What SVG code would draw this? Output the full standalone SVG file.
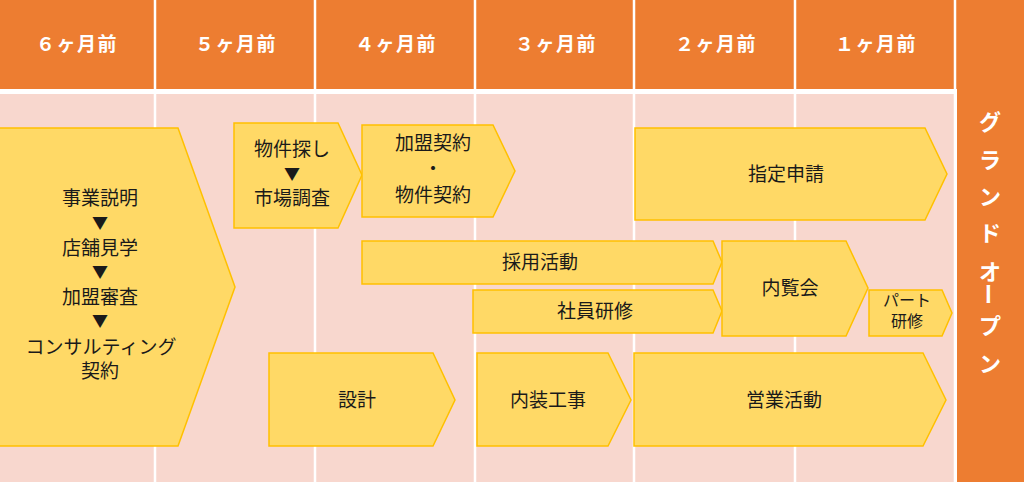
<svg xmlns="http://www.w3.org/2000/svg" width="1024" height="482" viewBox="0 0 1024 482">
<style>
.hdr{font-family:"Noto Sans CJK JP","Noto Sans",sans-serif;font-size:19px;font-weight:bold;fill:#fff;text-anchor:middle;dominant-baseline:central;letter-spacing:1.5px}
.vt{font-family:"Noto Sans CJK JP","Noto Sans",sans-serif;font-size:22px;font-weight:bold;fill:#fff;text-anchor:middle;dominant-baseline:central}
.box{fill:#FFD966;stroke:#FFC000;stroke-width:1.5}
.t{font-family:"Noto Sans CJK JP","Noto Sans",sans-serif;font-size:19px;fill:#1a1a1a;text-anchor:middle;dominant-baseline:central}
.s{font-size:16px}
.tri{font-size:16px}
.div{stroke:#fff;stroke-width:2.5}
</style>
<g id="background">
<rect x="0" y="0" width="1024" height="482" fill="#fff"/>
<rect x="0" y="0" width="1024" height="89" fill="#ED7D31"/>
<rect x="957" y="0" width="67" height="482" fill="#ED7D31"/>
<rect x="0" y="94" width="954" height="388" fill="#F8D7CE"/>
<line class="div" x1="155" y1="0" x2="155" y2="482"/>
<line class="div" x1="315" y1="0" x2="315" y2="482"/>
<line class="div" x1="475" y1="0" x2="475" y2="482"/>
<line class="div" x1="634" y1="0" x2="634" y2="482"/>
<line class="div" x1="795" y1="0" x2="795" y2="482"/>
<line class="div" x1="955" y1="0" x2="955" y2="482"/>
</g>
<g id="header">
<text class="hdr" x="77" y="42">６ヶ月前</text>
<text class="hdr" x="236" y="42">５ヶ月前</text>
<text class="hdr" x="396" y="42">４ヶ月前</text>
<text class="hdr" x="556" y="42">３ヶ月前</text>
<text class="hdr" x="716" y="42">２ヶ月前</text>
<text class="hdr" x="876" y="42">１ヶ月前</text>
</g>
<g id="grand-open">
<text class="vt" x="990" y="120">グ</text>
<text class="vt" x="990" y="158">ラ</text>
<text class="vt" x="990" y="195">ン</text>
<text class="vt" x="990" y="231">ド</text>
<text class="vt" x="990" y="270">オ</text>
<text class="vt" x="990" y="294" transform="rotate(90 990 294)">ー</text>
<text class="vt" x="990" y="324">プ</text>
<text class="vt" x="990" y="362">ン</text>
</g>
<g id="connectors"/>
<g id="n-explain">
<polygon class="box" points="-2,128 178,128 235,287 178,446 -2,446"/>
<text class="t" x="100" y="196">事業説明</text>
<text class="t tri" x="100" y="222">▼</text>
<text class="t" x="100" y="246">店舗見学</text>
<text class="t tri" x="100" y="271">▼</text>
<text class="t" x="100" y="295">加盟審査</text>
<text class="t tri" x="100" y="320">▼</text>
<text class="t" x="101" y="345">コンサルティング</text>
<text class="t" x="100" y="369">契約</text>
</g>
<g id="n-property">
<polygon class="box" points="234,123 338,123 362,175 338,228 234,228"/>
<text class="t" x="292" y="147">物件探し</text>
<text class="t tri" x="292" y="173">▼</text>
<text class="t" x="292" y="196">市場調査</text>
</g>
<g id="n-contract">
<polygon class="box" points="362,125 493,125 515,171 493,217 362,217"/>
<text class="t" x="433" y="141">加盟契約</text>
<text class="t" x="433" y="167">・</text>
<text class="t" x="433" y="193">物件契約</text>
</g>
<g id="n-recruit">
<polygon class="box" points="362,241 713,241 722,262 713,284 362,284"/>
<text class="t" x="540" y="260">採用活動</text>
</g>
<g id="n-training">
<polygon class="box" points="473,290 713,290 722,311 713,333 473,333"/>
<text class="t" x="595" y="309">社員研修</text>
</g>
<g id="n-preview">
<polygon class="box" points="722,241 846,241 868,288 846,336 722,336"/>
<text class="t" x="790" y="286">内覧会</text>
</g>
<g id="n-part">
<polygon class="box" points="869,290 942,290 952,313 942,336 869,336"/>
<text class="t s" x="907" y="299">パート</text>
<text class="t s" x="907" y="320">研修</text>
</g>
<g id="n-apply">
<polygon class="box" points="635,128 925,128 947,174 925,220 635,220"/>
<text class="t" x="786" y="172">指定申請</text>
</g>
<g id="n-design">
<polygon class="box" points="269,353 433,353 455,400 433,446 269,446"/>
<text class="t" x="357" y="398">設計</text>
</g>
<g id="n-interior">
<polygon class="box" points="477,353 608,353 631,400 608,446 477,446"/>
<text class="t" x="548" y="398">内装工事</text>
</g>
<g id="n-sales">
<polygon class="box" points="634,353 923,353 946,400 923,446 634,446"/>
<text class="t" x="784" y="398">営業活動</text>
</g>
</svg>
